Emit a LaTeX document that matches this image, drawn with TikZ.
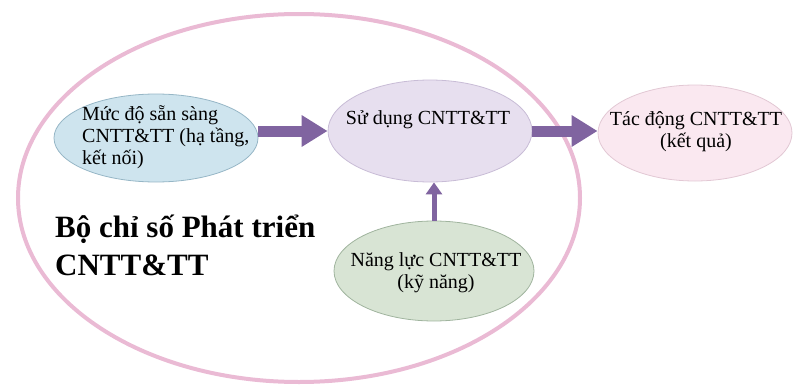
\documentclass[tikz,border=0pt]{standalone}
\usepackage{fontspec}
\setmainfont{Liberation Serif}
\usetikzlibrary{shapes.geometric,arrows.meta}
\definecolor{ringpink}{RGB}{234,186,212}
\definecolor{arrowc}{RGB}{128,100,160}
\definecolor{bluefill}{RGB}{206,228,238}
\definecolor{blueline}{RGB}{150,182,198}
\definecolor{purplefill}{RGB}{231,223,239}
\definecolor{purpleline}{RGB}{200,188,214}
\definecolor{pinkfill}{RGB}{250,232,240}
\definecolor{pinkline}{RGB}{226,200,212}
\definecolor{greenfill}{RGB}{216,228,212}
\definecolor{greenline}{RGB}{160,180,158}
\tikzset{
  bubble/.style={ellipse, inner sep=0pt, line width=0.8pt},
  label20/.style={inner sep=0pt, font=\fontsize{20}{22}\selectfont},
  bigarrow/.style={draw=arrowc, line width=11pt, -{Triangle[length=26pt,width=30pt]}},
  smallarrow/.style={draw=arrowc, line width=5pt, -{Triangle[length=12pt,width=16pt]}},
}
\begin{document}
\begin{tikzpicture}[x=1pt,y=-1pt]
\useasboundingbox (0,0) rectangle (793,388);
% outer ring of the index
\node[ellipse, draw=ringpink, line width=4pt, minimum width=562pt, minimum height=368pt, inner sep=0pt] (ring) at (299,198) {};
% bubbles
\node[bubble, fill=bluefill, draw=blueline, minimum width=204pt, minimum height=88pt] (ready) at (156,138) {};
\node[bubble, fill=purplefill, draw=purpleline, minimum width=204pt, minimum height=102pt] (use) at (430,131) {};
\node[bubble, fill=pinkfill, draw=pinkline, minimum width=194pt, minimum height=96pt] (impact) at (695,133) {};
\node[bubble, fill=greenfill, draw=greenline, minimum width=200pt, minimum height=100pt] (skill) at (434,271) {};
% texts
\node[label20, align=left, anchor=west] (readyt) at (82,137) {Mức độ sẵn sàng\\CNTT\&TT (hạ tầng,\\kết nối)};
\node[label20] (uset) at (428,120) {Sử dụng CNTT\&TT};
\node[label20, align=center] (impactt) at (696,132) {Tác động CNTT\&TT\\(kết quả)};
\node[label20, align=center] (skillt) at (436,273) {Năng lực CNTT\&TT\\(kỹ năng)};
\node[inner sep=0pt, align=left, anchor=west, font=\bfseries\fontsize{31}{38}\selectfont] (title) at (55,245) {Bộ chỉ số Phát triển\\CNTT\&TT};
% connectors
\draw[bigarrow] (ready.east |- use.west) -- (use.west);
\draw[bigarrow] (use.east) -- (use.east -| impact.west);
\draw[smallarrow] (skill.north) -- (skill.north |- use.south);
\end{tikzpicture}
\end{document}
